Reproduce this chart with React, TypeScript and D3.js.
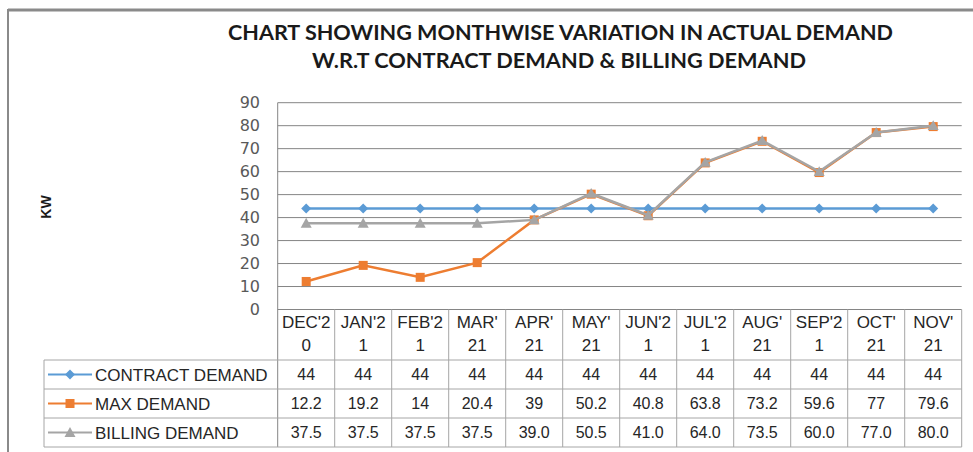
import { useMemo } from "react";
import * as d3 from "d3";

const categories = [
  "DEC'20", "JAN'21", "FEB'21", "MAR'21", "APR'21", "MAY'21",
  "JUN'21", "JUL'21", "AUG'21", "SEP'21", "OCT'21", "NOV'21",
];
// how the month labels wrap inside the table header
const headerLines = [
  ["DEC'2", "0"], ["JAN'2", "1"], ["FEB'2", "1"], ["MAR'", "21"],
  ["APR'", "21"], ["MAY'", "21"], ["JUN'2", "1"], ["JUL'2", "1"],
  ["AUG'", "21"], ["SEP'2", "1"], ["OCT'", "21"], ["NOV'", "21"],
];
const contractDemand = [44, 44, 44, 44, 44, 44, 44, 44, 44, 44, 44, 44];
const maxDemand = [12.2, 19.2, 14, 20.4, 39, 50.2, 40.8, 63.8, 73.2, 59.6, 77, 79.6];
const billingDemand = [37.5, 37.5, 37.5, 37.5, 39.0, 50.5, 41.0, 64.0, 73.5, 60.0, 77.0, 80.0];
const yTicks = [0, 10, 20, 30, 40, 50, 60, 70, 80, 90];

const series = [
  { name: "CONTRACT DEMAND", values: contractDemand, color: "#5b9bd5", marker: "diamond", fmt: (v: number) => String(v) },
  { name: "MAX DEMAND", values: maxDemand, color: "#ed7d31", marker: "square", fmt: (v: number) => String(v) },
  { name: "BILLING DEMAND", values: billingDemand, color: "#a5a5a5", marker: "triangle", fmt: (v: number) => v.toFixed(1) },
];

const W = 973;
const H = 452;
const plot = { left: 277.7, right: 961.7, top: 102.7, bottom: 309.5 };
const table = { legendLeft: 44, headerBottom: 360, rowH: 29 };

const textFont = "'Liberation Sans', Arial, sans-serif";
const titleFont = "Lato, 'Open Sans', 'Liberation Sans', sans-serif";

function Marker({ type, x, y, color }: { type: string; x: number; y: number; color: string }) {
  if (type === "diamond") {
    const r = 5;
    return <path d={`M${x},${y - r}L${x + r},${y}L${x},${y + r}L${x - r},${y}Z`} fill={color} />;
  }
  if (type === "square") {
    const s = 9;
    return <rect x={x - s / 2} y={y - s / 2} width={s} height={s} fill={color} />;
  }
  const r = 5.5;
  return <path d={`M${x},${y - r}L${x + r},${y + r * 0.8}L${x - r},${y + r * 0.8}Z`} fill={color} />;
}

export default function App() {
  const x = useMemo(
    () => d3.scaleBand().domain(categories).range([plot.left, plot.right]).padding(0),
    []
  );
  const y = useMemo(
    () => d3.scaleLinear().domain([0, 90]).range([plot.bottom, plot.top]),
    []
  );
  const bw = x.bandwidth();
  const cx = (c: string) => (x(c) as number) + bw / 2;

  const line = d3
    .line<number>()
    .x((_, i) => cx(categories[i]))
    .y((d) => y(d));

  const rowTop = (i: number) => table.headerBottom + i * table.rowH;
  const tableBottom = rowTop(series.length);

  return (
    <svg width={W} height={H} style={{ position: "absolute", left: 0, top: 0, background: "#fff" }}>
      {/* frame */}
      <line x1={8} x2={W} y1={10} y2={10} stroke="#8a8a8a" strokeWidth={3} />
      <line x1={8} x2={8} y1={9} y2={H} stroke="#8a8a8a" strokeWidth={2} />

      {/* title */}
      <g fontFamily={titleFont} fontWeight="bold" fontSize={20} fill="#1a1a1a" textAnchor="middle">
        <text x={560.5} y={40} textLength={665} lengthAdjust="spacingAndGlyphs">
          CHART SHOWING MONTHWISE VARIATION IN ACTUAL DEMAND
        </text>
        <text x={559} y={68} textLength={494} lengthAdjust="spacingAndGlyphs">
          W.R.T CONTRACT DEMAND &amp; BILLING DEMAND
        </text>
      </g>

      {/* y axis title */}
      <text
        transform="translate(51,207) rotate(-90)"
        textAnchor="middle"
        fontFamily={textFont}
        fontWeight="bold"
        fontSize={14}
        fill="#1a1a1a"
      >
        KW
      </text>

      {/* gridlines + ticks */}
      {yTicks.map((t) => (
        <g key={t}>
          <line x1={plot.left} x2={plot.right} y1={y(t)} y2={y(t)} stroke="#858585" strokeWidth={1} />
          <text
            x={260}
            y={y(t)}
            dy="0.36em"
            textAnchor="end"
            fontFamily="'DejaVu Sans', sans-serif"
            fontSize={16}
            fill="#595959"
          >
            {t}
          </text>
        </g>
      ))}
      <line x1={plot.left} x2={plot.left} y1={plot.top} y2={tableBottom} stroke="#858585" />

      {/* series */}
      {series.map((s) => (
        <g key={s.name}>
          <path d={line(s.values) || ""} fill="none" stroke={s.color} strokeWidth={2.5} />
          {s.values.map((v, i) => (
            <Marker key={i} type={s.marker} x={cx(categories[i])} y={y(v)} color={s.color} />
          ))}
        </g>
      ))}

      {/* data table */}
      <g stroke="#a6a6a6" strokeWidth={1} fill="none">
        {categories.map((c) => (
          <line key={c} x1={(x(c) as number) + bw} x2={(x(c) as number) + bw} y1={plot.bottom} y2={tableBottom} />
        ))}
        {series.map((s, i) => (
          <line key={s.name} x1={table.legendLeft} x2={plot.right} y1={rowTop(i)} y2={rowTop(i)} />
        ))}
        <line x1={table.legendLeft} x2={plot.right} y1={tableBottom} y2={tableBottom} />
        <line x1={table.legendLeft} x2={table.legendLeft} y1={table.headerBottom} y2={tableBottom} />
      </g>

      <g fontFamily={textFont} fill="#262626" textAnchor="middle">
        {categories.map((c, i) => (
          <g key={c}>
            <text x={cx(c)} y={328} fontSize={17}>{headerLines[i][0]}</text>
            <text x={cx(c)} y={351} fontSize={17}>{headerLines[i][1]}</text>
          </g>
        ))}
        {series.map((s, r) =>
          s.values.map((v, i) => (
            <text key={s.name + i} x={cx(categories[i])} y={rowTop(r) + table.rowH / 2} dy="0.36em" fontSize={16}>
              {s.fmt(v)}
            </text>
          ))
        )}
      </g>

      {/* legend keys in the table */}
      {series.map((s, r) => {
        const cy = rowTop(r) + table.rowH / 2;
        return (
          <g key={s.name}>
            <line x1={48} x2={92} y1={cy} y2={cy} stroke={s.color} strokeWidth={2} />
            <Marker type={s.marker} x={70} y={cy} color={s.color} />
            <text x={95} y={cy} dy="0.36em" fontFamily={textFont} fontSize={17} fill="#262626">
              {s.name}
            </text>
          </g>
        );
      })}
    </svg>
  );
}
